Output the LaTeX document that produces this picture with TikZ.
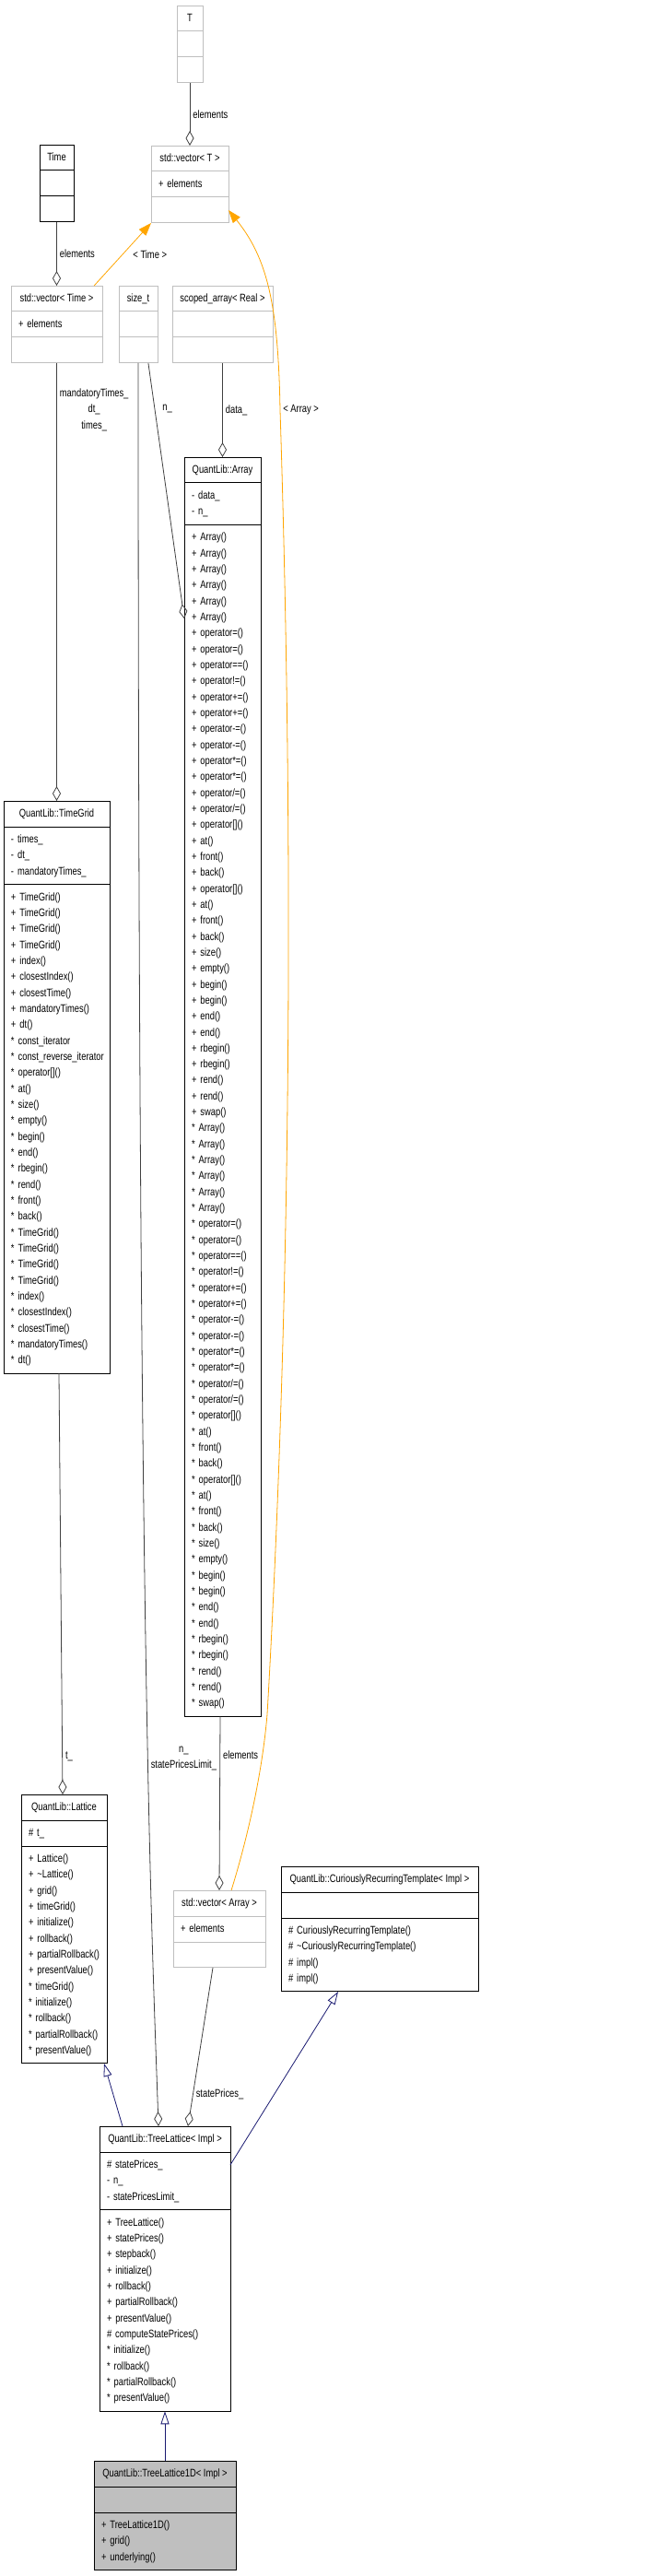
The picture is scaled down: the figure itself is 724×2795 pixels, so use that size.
\documentclass[tikz,border=0pt]{standalone}
\usepackage{fontspec}
\setmainfont{Liberation Sans}[FakeStretch=0.78]
\usetikzlibrary{arrows.meta}

\definecolor{boxgray}{RGB}{191,191,191}
\definecolor{edgegray}{RGB}{64,64,64}
\definecolor{inhblue}{RGB}{25,25,112}
\definecolor{tmplorange}{RGB}{255,165,0}

\tikzset{
  umlpart/.style={draw=black, fill=white, rectangle, line width=1pt, outer sep=0pt,
    inner xsep=8pt, inner ysep=5.33pt, align=left,
    font={\fontsize{12}{17.33}\selectfont\hyphenpenalty=10000\relax}},
  extbox/.style={draw=boxgray},
  mainbox/.style={fill=boxgray},
  aggr/.style={draw=edgegray, line width=0.8pt, -{Diamond[open,length=16pt,width=9pt]}},
  inh/.style={draw=inhblue, line width=0.8pt, -{Triangle[open,length=14pt,width=9pt]}},
  tmpl/.style={draw=tmplorange, line width=0.8pt, -{Triangle[length=14pt,width=10pt]}},
  elabel/.style={font=\fontsize{12}{17.33}\selectfont, inner sep=3pt, align=center, text=black}
}

\newcommand{\umlclass}[7][]{%
  \node[umlpart,#1,minimum width=#4pt+16pt,anchor=north west] (#2) at (#3) {\strut#5\strut};
  \node[umlpart,#1,text width=#4pt,anchor=north west] (#2-a) at (#2.south west)
    {\rightskip=-40pt plus 1fil\relax\strut#6\strut};
  \node[umlpart,#1,text width=#4pt,anchor=north west] (#2-m) at (#2-a.south west)
    {\rightskip=-40pt plus 1fil\relax\strut#7\strut};}

\newcommand{\arraymembers}[1]{#1 Array()\\{}#1 Array()\\{}#1 Array()\\{}#1 Array()\\{}#1 Array()\\{}#1 Array()%
\\{}#1 operator=()\\{}#1 operator=()\\{}#1 operator==()\\{}#1 operator!=()\\{}#1 operator+=()\\{}#1 operator+=()%
\\{}#1 operator-=()\\{}#1 operator-=()\\{}#1 operator*=()\\{}#1 operator*=()\\{}#1 operator/=()\\{}#1 operator/=()%
\\{}#1 operator[]()\\{}#1 at()\\{}#1 front()\\{}#1 back()\\{}#1 operator[]()\\{}#1 at()\\{}#1 front()\\{}#1 back()%
\\{}#1 size()\\{}#1 empty()\\{}#1 begin()\\{}#1 begin()\\{}#1 end()\\{}#1 end()\\{}#1 rbegin()\\{}#1 rbegin()%
\\{}#1 rend()\\{}#1 rend()\\{}#1 swap()}

\begin{document}
\begin{tikzpicture}[x=1pt,y=-1pt]
  \useasboundingbox (0,0) rectangle (724,2795);

  \umlclass[extbox]{T}{192,6}{12}{T}{}{}
  \umlclass[extbox]{vecT}{164,158}{68}{std::vector< T >}{+ elements}{}
  \umlclass{Time}{43,157}{21}{Time}{}{}
  \umlclass[extbox]{vecTime}{12,310}{83}{std::vector< Time >}{+ elements}{}
  \umlclass[extbox]{sizet}{129,310}{26}{size\_t}{}{}
  \umlclass[extbox]{scoped}{187,310}{93}{scoped\_array< Real >}{}{}
  \umlclass{array}{200,496}{67}{QuantLib::Array}{- data\_\\- n\_}{\arraymembers{+}\\\arraymembers{*}}
  \umlclass{timegrid}{4,869}{99}{QuantLib::TimeGrid}{- times\_\\- dt\_\\- mandatoryTimes\_}%
    {+ TimeGrid()\\+ TimeGrid()\\+ TimeGrid()\\+ TimeGrid()\\+ index()\\+ closestIndex()\\+ closestTime()%
     \\+ mandatoryTimes()\\+ dt()\\{}* const\_iterator\\{}* const\_reverse\_iterator\\{}* operator[]()\\{}* at()%
     \\{}* size()\\{}* empty()\\{}* begin()\\{}* end()\\{}* rbegin()\\{}* rend()\\{}* front()\\{}* back()%
     \\{}* TimeGrid()\\{}* TimeGrid()\\{}* TimeGrid()\\{}* TimeGrid()\\{}* index()\\{}* closestIndex()%
     \\{}* closestTime()\\{}* mandatoryTimes()\\{}* dt()}
  \umlclass{lattice}{23,1947}{77}{QuantLib::Lattice}{\# t\_}%
    {+ Lattice()\\+ \textasciitilde Lattice()\\+ grid()\\+ timeGrid()\\+ initialize()\\+ rollback()%
     \\+ partialRollback()\\+ presentValue()\\{}* timeGrid()\\{}* initialize()\\{}* rollback()%
     \\{}* partialRollback()\\{}* presentValue()}
  \umlclass[extbox]{vecarr}{188,2051}{84}{std::vector< Array >}{+ elements}{}
  \umlclass{crt}{305,2025}{198}{QuantLib::CuriouslyRecurringTemplate< Impl >}{}%
    {\# CuriouslyRecurringTemplate()\\\# \textasciitilde CuriouslyRecurringTemplate()\\\# impl()\\\# impl()}
  \umlclass{treelat}{108,2307}{126}{QuantLib::TreeLattice< Impl >}{\# statePrices\_\\- n\_\\- statePricesLimit\_}%
    {+ TreeLattice()\\+ statePrices()\\+ stepback()\\+ initialize()\\+ rollback()\\+ partialRollback()%
     \\+ presentValue()\\\# computeStatePrices()\\{}* initialize()\\{}* rollback()\\{}* partialRollback()%
     \\{}* presentValue()}
  \umlclass[mainbox]{treelat1d}{102,2670}{138}{QuantLib::TreeLattice1D< Impl >}{}%
    {+ TreeLattice1D()\\+ grid()\\+ underlying()}

  \draw[aggr] (T-m) -- (vecT) node[elabel,midway,anchor=west] {elements};
  \draw[aggr] (Time-m) -- (vecTime) node[elabel,midway,anchor=west] {elements};
  \draw[tmpl] (vecTime.19) -- (vecT-m.south west) node[elabel,midway,anchor=west,xshift=8pt] {< Time >};
  \draw[aggr] (sizet-m.-52) -- ([yshift=-102pt]array-m.north west) node[elabel,pos=0.18,anchor=west,xshift=5pt] {n\_};
  \draw[aggr] (scoped-m) -- (array) node[elabel,midway,anchor=west] {data\_};
  \draw[aggr] (sizet-m.south) .. controls (150,1800) and (165,2100) .. ([xshift=-7pt]treelat.north)
    node[elabel,pos=0.57,anchor=west] {n\_\\statePricesLimit\_};
  \draw[aggr] (vecTime-m) -- (timegrid) node[elabel,pos=0.107,anchor=west] {mandatoryTimes\_\\dt\_\\times\_};
  \draw[aggr] ([xshift=2.5pt]timegrid-m.south) -- ([xshift=-1.5pt]lattice.north) node[elabel,pos=0.91,anchor=west] {t\_};
  \draw[aggr] ([xshift=-2.5pt]array-m.south) -- (vecarr.north) node[elabel,pos=0.22,anchor=west] {elements};
  \draw[aggr] ([xshift=-7pt]vecarr-m.south) -- ([xshift=25pt]treelat.north) node[elabel,pos=0.8,anchor=west] {statePrices\_};
  \draw[tmpl] (vecarr.47) .. controls (270,1990) and (285,1920) .. (290,1860)
    .. controls (305,1600) and (325,1100) .. (304,445) node[elabel,anchor=west] {< Array >}
    .. controls (302,330) and (290,280) .. (vecT-m.east);
  \draw[inh] ([xshift=-46pt]treelat.north) -- ([xshift=-3pt]lattice-m.south east);
  \draw[inh] ([yshift=17.5pt]treelat-a.east) -- ([xshift=-45pt]crt-m.south);
  \draw[inh] (treelat1d) -- (treelat-m);
\end{tikzpicture}
\end{document}
